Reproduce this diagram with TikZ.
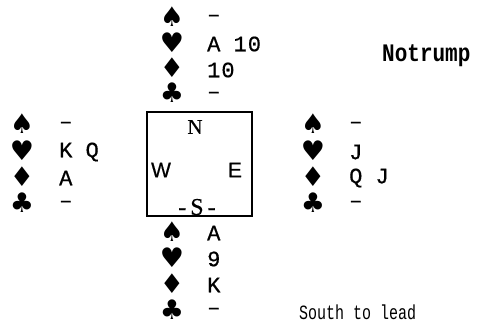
\documentclass[tikz,border=0pt]{standalone}
\usepackage{fontspec}
\usepackage{graphicx}
\newfontfamily\suitfont{DejaVu Sans}
\newfontfamily\cardfont[FakeBold=0.6]{Liberation Mono}
\newfontfamily\capfont{Liberation Mono}
\newfontfamily\seriffont[FakeBold=0.5]{Liberation Serif}
\newfontfamily\sansfont[FakeBold=0.5]{Liberation Sans}
\begin{document}
\begin{tikzpicture}[x=1pt,y=-1pt,
  suit/.style={inner sep=0pt,font=\suitfont\fontsize{27}{27}\selectfont},
  cards/.style={anchor=west,inner sep=0pt,font=\cardfont\fontsize{22}{22}\selectfont},
  seat/.style={inner sep=0pt},
  every node/.style={text=black}]
\useasboundingbox (0,0) rectangle (496,325);

% compass box
\draw[line width=1.4pt] (147,112) rectangle (252,216);
\node[seat,font=\seriffont\fontsize{21}{21}\selectfont] (n) at (195,127) {N};
\node[seat,font=\sansfont\fontsize{21}{21}\selectfont] (w) at (161,170) {W};
\node[seat,font=\sansfont\fontsize{21}{21}\selectfont] (e) at (235,170) {E};
\node[seat,font=\seriffont\fontsize{24}{24}\selectfont] (s) at (197,207) {-\kern4ptS\kern4pt-};

% North
\node[suit] (ns) at (172,17) {♠};
\node[suit] (nh) at (172,43) {♥};
\node[suit] (nd) at (172,68) {♦};
\node[suit] (nc) at (172,93) {♣};
\node[cards] (nst) at (207,18) {–};
\node[cards] (nht) at (207,44) {A 1\kern1pt0};
\node[cards] (ndt) at (207,70) {1\kern1pt0};
\node[cards] (nct) at (207,95) {–};

% West
\node[suit] (ws) at (22,124) {♠};
\node[suit] (wh) at (22,151) {♥};
\node[suit] (wd) at (22,177) {♦};
\node[suit] (wc) at (22,203) {♣};
\node[cards] (wst) at (59,125) {–};
\node[cards] (wht) at (59,152) {K Q};
\node[cards] (wdt) at (59,178) {A};
\node[cards] (wct) at (59,204) {–};

% East
\node[suit] (es) at (313,124) {♠};
\node[suit] (eh) at (313,151) {♥};
\node[suit] (ed) at (313,177) {♦};
\node[suit] (ec) at (313,203) {♣};
\node[cards] (est) at (349,125) {–};
\node[cards] (eht) at (349,152) {J};
\node[cards] (edt) at (349,178) {Q J};
\node[cards] (ect) at (349,204) {–};

% South
\node[suit] (ss) at (172,232) {♠};
\node[suit] (sh) at (172,258) {♥};
\node[suit] (sd) at (172,284) {♦};
\node[suit] (sc) at (172,310) {♣};
\node[cards] (sst) at (207,233) {A};
\node[cards] (sht) at (207,259) {9};
\node[cards] (sdt) at (207,285) {K};
\node[cards] (sct) at (207,311) {–};

% captions
\node[anchor=west,inner sep=0pt,font=\capfont\bfseries\fontsize{21}{21}\selectfont] (contract) at (382,56) {\scalebox{1}[1.2]{Notrump}};
\node[anchor=west,inner sep=0pt,font=\capfont\fontsize{15}{15}\selectfont] (lead) at (299,312) {\scalebox{1}[1.35]{South to lead}};
\end{tikzpicture}
\end{document}
